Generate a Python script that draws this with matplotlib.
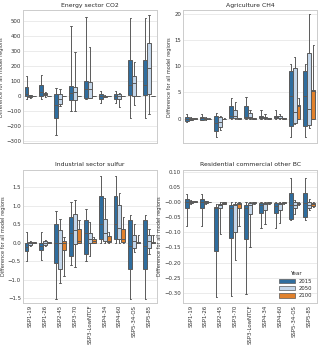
import numpy as np
import matplotlib
matplotlib.use("Agg")
import matplotlib.pyplot as plt
from matplotlib.patches import Patch
import seaborn as sns

scenarios = ["SSP1-19", "SSP1-26", "SSP2-45", "SSP3-70", "SSP3-LowNTCF",
             "SSP4-34", "SSP4-60", "SSP5-34-OS", "SSP5-85"]
years = ["2015", "2050", "2100"]

# box stats per scenario: (whisker low, q1, median, q3, whisker high)
co2_2015 = [(-20, 0, 10, 60, 135), (-20, 0, 25, 70, 140), (-262, -150, -60, 10, 52),
            (-105, -30, 20, 65, 465), (-20, -15, 45, 100, 530), (-50, -25, 0, 15, 30),
            (-50, -25, 0, 15, 30), (-150, 5, 75, 240, 520), (-150, 5, 75, 240, 520)]
co2_2050 = [(-12, -8, -3, 3, 5), (-5, 3, 10, 20, 22), (-70, -55, -20, 15, 45),
            (-105, -30, 25, 60, 295), (-15, -15, 45, 95, 325), (-8, -5, -2, 0, 2),
            (-75, -25, 0, 15, 20), (-60, 0, 85, 135, 225), (-120, 10, 185, 355, 540)]
co2_2100 = [(0, 0, 0, 0, 0)] * 9

ch4_2015 = [(-0.6, -0.4, 0.0, 0.3, 0.8), (-0.3, -0.2, 0.1, 0.4, 0.8), (-3.5, -2.4, -0.8, 0.6, 1.1),
            (0.0, 0.2, 0.5, 2.5, 4.0), (0.0, 0.2, 0.4, 2.5, 4.1), (0.0, 0.1, 0.4, 0.6, 1.7),
            (0.0, 0.1, 0.4, 0.6, 1.7), (-3.5, -1.5, 4.3, 9.2, 10.4), (-3.5, -1.5, 4.3, 9.2, 10.4)]
ch4_2050 = [(-0.3, -0.2, 0.0, 0.2, 0.4), (-0.2, -0.1, 0.0, 0.2, 0.3), (-2.1, -1.6, -0.6, 0.3, 0.6),
            (0.0, 0.1, 0.5, 1.6, 3.2), (0.0, 0.1, 0.4, 1.0, 1.6), (0.0, 0.1, 0.2, 0.4, 0.9),
            (0.0, 0.1, 0.2, 0.5, 0.9), (-1.1, -0.9, 1.3, 9.6, 11.7), (-1.7, -1.3, 1.8, 12.5, 20.0)]
ch4_2100 = [(0.0, 0.0, 0.0, 0.1, 0.1), (0.0, 0.0, 0.0, 0.0, 0.1), (0.0, 0.0, 0.0, 0.0, 0.1),
            (0.0, 0.0, 0.1, 0.2, 0.2), (0.0, 0.0, 0.0, 0.1, 0.1), (0.0, 0.0, 0.1, 0.2, 0.2),
            (0.0, 0.0, 0.1, 0.2, 0.2), (0.0, 0.0, 2.5, 2.6, 4.0), (0.0, 0.0, 5.3, 5.4, 14.1)]

so2_2015 = [(-0.5, -0.22, -0.12, 0.0, 0.3), (-0.48, -0.2, -0.1, 0.0, 0.3), (-1.52, -0.55, 0.0, 0.5, 0.85),
            (-0.6, -0.35, 0.25, 0.68, 1.1), (-0.5, -0.32, 0.25, 0.6, 0.92), (0.0, 0.1, 0.5, 1.25, 1.8),
            (0.0, 0.1, 0.5, 1.25, 1.8), (-1.52, -0.7, -0.1, 0.62, 0.75), (-1.52, -0.7, -0.1, 0.62, 0.75)]
so2_2050 = [(-0.1, -0.05, -0.02, 0.02, 0.05), (-0.1, -0.05, 0.0, 0.05, 0.07), (-1.1, -0.72, 0.0, 0.35, 0.65),
            (-0.65, -0.03, 0.33, 0.77, 1.15), (-0.35, 0.0, 0.1, 0.25, 0.55), (0.0, 0.05, 0.25, 0.65, 1.22),
            (0.0, 0.1, 0.4, 1.02, 1.35), (-0.25, -0.15, 0.05, 0.2, 0.5), (-0.32, -0.15, 0.05, 0.22, 0.38)]
so2_2100 = [(-0.02, 0.0, 0.0, 0.01, 0.02), (-0.02, 0.0, 0.0, 0.01, 0.02), (-0.9, -0.2, 0.0, 0.05, 0.15),
            (-0.02, 0.0, 0.05, 0.37, 0.6), (0.0, 0.0, 0.05, 0.1, 0.15), (0.0, 0.02, 0.05, 0.18, 0.3),
            (0.0, 0.02, 0.1, 0.38, 0.7), (-0.02, 0.0, 0.0, 0.02, 0.2), (-0.02, 0.0, 0.0, 0.02, 0.22)]

bc_2015 = [(-0.08, -0.02, 0.0, 0.01, 0.028), (-0.08, -0.02, 0.0, 0.01, 0.028), (-0.315, -0.162, -0.02, -0.015, -0.005),
           (-0.31, -0.12, -0.02, -0.008, 0.0), (-0.305, -0.122, -0.02, -0.008, 0.0), (-0.085, -0.035, -0.01, -0.002, 0.0),
           (-0.085, -0.035, -0.012, -0.002, 0.0), (-0.058, -0.055, -0.01, 0.03, 0.082), (-0.058, -0.05, -0.002, 0.03, 0.082)]
bc_2050 = [(-0.006, -0.003, 0.0, 0.005, 0.008), (-0.006, -0.003, 0.0, 0.003, 0.005), (-0.105, -0.02, -0.01, -0.005, 0.0),
           (-0.19, -0.1, -0.01, -0.005, 0.0), (-0.148, -0.04, -0.01, -0.003, 0.0), (-0.072, -0.025, -0.005, -0.002, 0.0),
           (-0.068, -0.025, -0.005, -0.002, 0.0), (-0.04, -0.02, -0.008, 0.0, 0.008), (-0.027, -0.02, -0.01, 0.0, 0.012)]
bc_2100 = [(0.0, 0.0, 0.001, 0.003, 0.004), (0.0, 0.0, 0.0, 0.001, 0.002), (-0.006, -0.005, -0.002, 0.0, 0.0),
           (-0.08, -0.02, -0.005, -0.003, 0.0), (-0.004, -0.003, -0.001, 0.0, 0.0), (-0.004, -0.003, -0.001, 0.0, 0.0),
           (-0.004, -0.003, -0.001, 0.0, 0.0), (-0.008, -0.007, -0.004, -0.002, 0.0), (-0.015, -0.012, -0.006, -0.002, 0.0)]

panels = [
    ("Energy sector CO2", [co2_2015, co2_2050, co2_2100], (-318, 572), np.arange(-300, 501, 100), "{:.0f}"),
    ("Agriculture CH4", [ch4_2015, ch4_2050, ch4_2100], (-4.7, 20.7), np.arange(0, 21, 5), "{:.0f}"),
    ("Industrial sector sulfur", [so2_2015, so2_2050, so2_2100], (-1.62, 1.97), np.arange(-1.5, 1.51, 0.5), "{:.1f}"),
    ("Residential commercial other BC", [bc_2015, bc_2050, bc_2100], (-0.333, 0.108), np.arange(-0.30, 0.101, 0.05), "{:.2f}"),
]

colors = ["#2f6d9e", "#c3d6ea", "#e1812c"]
line_c = "#5a5a5a"

sns.set_style("whitegrid")
plt.rcParams['font.family'] = ['DejaVu Sans']

fig, axes = plt.subplots(2, 2, figsize=(3.2, 3.47), dpi=100)
fig.subplots_adjust(left=0.072, right=0.99, top=0.97, bottom=0.128, hspace=0.2, wspace=0.2)

w = 0.8 / 3
x = np.arange(len(scenarios))
for k, (title, series, ylim, yticks, fmt) in enumerate(panels):
    ax = axes.flat[k]
    for j, data in enumerate(series):
        stats = []
        for d in data:
            stats.append(dict(whislo=d[0], q1=d[1], med=d[2], q3=d[3], whishi=d[4], fliers=[]))
        pos = x + (j - 1) * w
        ax.bxp(stats, positions=pos, widths=w, patch_artist=True, showfliers=False,
               capwidths=w * 0.35, manage_ticks=False,
               boxprops=dict(facecolor=colors[j], edgecolor=line_c, linewidth=0.7),
               whiskerprops=dict(color=line_c, linewidth=0.7),
               capprops=dict(color=line_c, linewidth=0.7),
               medianprops=dict(color=line_c, linewidth=0.7))
    ax.set_xlim(-0.5, len(scenarios) - 0.5)
    ax.set_ylim(*ylim)
    ax.set_yticks(yticks)
    ax.set_yticklabels([fmt.format(v).replace("-", "\u2212") for v in yticks])
    ax.set_xticks(x)
    if k >= 2:
        ax.set_xticklabels(scenarios, rotation=90)
    else:
        ax.set_xticklabels([])
    ax.xaxis.grid(False)
    ax.yaxis.grid(True, color="#ebebeb", linewidth=0.7)
    ax.tick_params(labelsize=3.9, pad=1.5, length=0, labelcolor="#333333")
    ax.set_title(title, fontsize=4.4, pad=2.5, color="#262626")
    ax.set_ylabel("Difference for all model regions", fontsize=3.6, labelpad=1.5, color="#333333")
    for s in ax.spines.values():
        s.set_color("#cccccc")
        s.set_linewidth(0.7)

handles = [Patch(facecolor=colors[j], edgecolor=line_c, linewidth=0.5, label=years[j]) for j in range(3)]
leg = axes[1, 1].legend(handles=handles, title="Year", loc="lower right", fontsize=3.8,
                        title_fontsize=4.0, frameon=False, handlelength=3.0, handleheight=0.9,
                        borderaxespad=0.4, labelspacing=0.45)

fig.savefig("out.png", dpi=100)
